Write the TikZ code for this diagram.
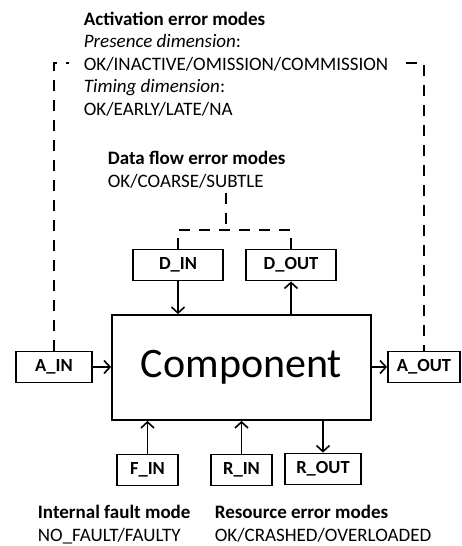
\documentclass[tikz,border=0pt]{standalone}
\usepackage{fontspec}
\setmainfont{Carlito}
\usetikzlibrary{arrows.meta}
\begin{document}
\begin{tikzpicture}[x=1pt,y=-1pt,line width=1.8pt,
        port/.style={draw,minimum height=31pt,inner sep=0pt,font=\bfseries\fontsize{18.5}{22}\selectfont},
        flecha/.style={-{Straight Barb[length=6pt,width=13pt,line width=1.6pt]}},
        linea/.style={dash pattern=on 11pt off 9pt},
        modos/.style={align=left,inner sep=0pt,font=\fontsize{19}{22.5}\selectfont}]
    \useasboundingbox (0,0) rectangle (462,546);

    % Componente
    \node[draw,minimum width=259pt,minimum height=105pt,font=\fontsize{42}{50}\selectfont] (comp) at (241.5,367.5) {Component};

    % Puertos
    \node[port,minimum width=90pt] (din) at (178,265) {D\_IN};
    \node[port,minimum width=90pt] (dout) at (291,265) {D\_OUT};
    \node[port,minimum width=76pt] (ain) at (54,367) {A\_IN};
    \node[port,minimum width=72pt] (aout) at (424,367) {A\_OUT};
    \node[port,minimum width=61pt] (fin) at (147.5,470) {F\_IN};
    \node[port,minimum width=61pt] (rin) at (241.5,470) {R\_IN};
    \node[port,minimum width=76pt] (rout) at (323,469) {R\_OUT};

    % Flechas
    \draw[flecha] (din.south) -- (din.south |- comp.north);
    \draw[flecha] (dout.south |- comp.north) -- (dout.south);
    \draw[flecha] (ain.east) -- (ain.east -| comp.west);
    \draw[flecha] (comp.east |- aout.west) -- (aout.west);
    \draw[flecha] (fin.north) -- (fin.north |- comp.south);
    \draw[flecha] (rin.north) -- (rin.north |- comp.south);
    \draw[flecha] (rout.north |- comp.south) -- (rout.north);

    % Lineas discontinuas
    \coordinate (dtop) at (226,193);
    \coordinate (djoin) at (226,230);
    \draw[linea] (dtop) -- (djoin);
    \draw[linea] (din.north) |- (djoin) -| (dout.north);
    \coordinate (atop) at (240,63);
    \draw[linea] (ain.north) |- (atop) -| (aout.north);

    % Modos de error (base = ultima linea)
    \node[modos,anchor=base west,fill=white,inner xsep=15pt] (act) at (68,115)
        {\textbf{Activation error modes}\\ \textit{Presence dimension}:\\ OK/INACTIVE/OMISSION/COMMISSION\\ \textit{Timing dimension}:\\ OK/EARLY/LATE/NA};
    \node[modos,anchor=base west] (dat) at (107,187) {\textbf{Data flow error modes}\\ OK/COARSE/SUBTLE};
    \node[modos,anchor=base west] (flt) at (37,541) {\textbf{Internal fault mode}\\ NO\_FAULT/FAULTY};
    \node[modos,anchor=base west] (res) at (214,541) {\textbf{Resource error modes}\\ OK/CRASHED/OVERLOADED};
\end{tikzpicture}
\end{document}
